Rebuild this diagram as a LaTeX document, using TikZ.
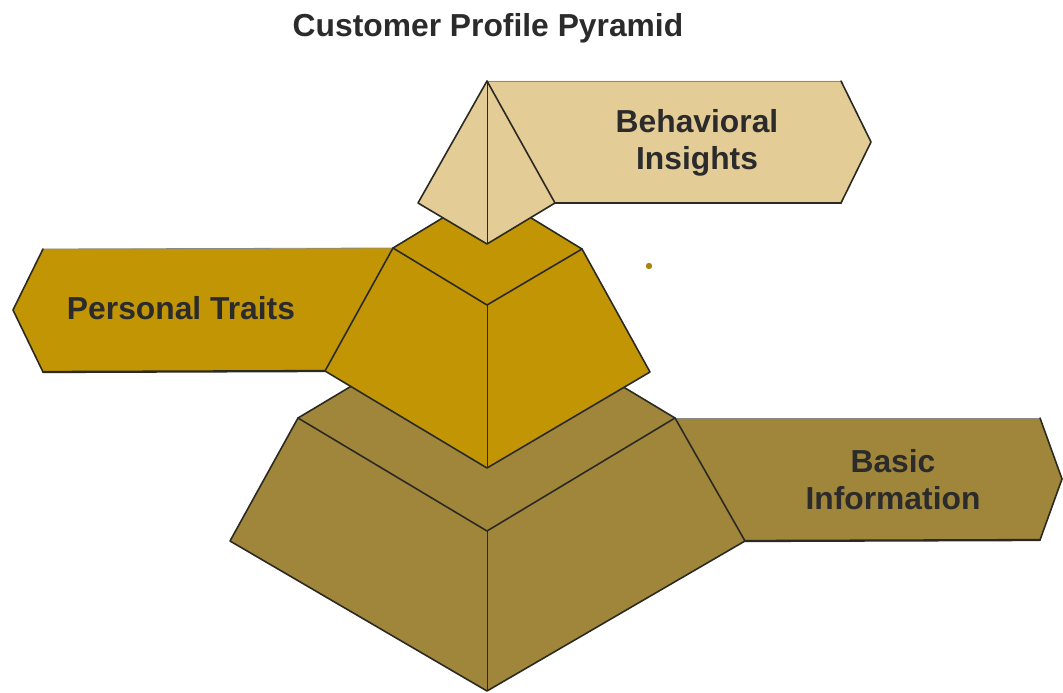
\documentclass[tikz,border=0pt]{standalone}
\usepackage{fontspec}
\setmainfont{Liberation Sans}
\definecolor{tanc}{HTML}{E4CC97}
\definecolor{goldc}{HTML}{C29504}
\definecolor{olivec}{HTML}{A0863B}
\definecolor{edgec}{HTML}{2B2A22}
\definecolor{txtc}{HTML}{2B2B2B}
\definecolor{dotc}{HTML}{A8850E}
\tikzset{
  edgeline/.style={draw=edgec, line width=1.6pt, line join=round, line cap=round},
  shadowline/.style={draw=edgec, line width=2.3pt, line join=round, line cap=round},
  midline/.style={draw=edgec, line width=1.0pt},
  topline/.style={draw=edgec!55, line width=0.8pt},
  lbl/.style={text=txtc, font=\bfseries\fontsize{31.8}{37}\selectfont, align=center, inner sep=0pt}
}
\begin{document}
\begin{tikzpicture}[x=1pt,y=-1pt]
\useasboundingbox (0,0) rectangle (1063,693);
% ---------- coordinates ----------
% bottom layer
\coordinate (Bl) at (298,418); \coordinate (Bf) at (487,531);
\coordinate (Br) at (675,418); \coordinate (Bb) at (487,305);
\coordinate (BL) at (230,541); \coordinate (BF) at (487,691);
\coordinate (BR) at (745,541);
\coordinate (A1) at (1040,418); \coordinate (A2) at (1062,479); \coordinate (A3) at (1040,540);
% middle layer
\coordinate (Ml) at (393,248); \coordinate (Mf) at (487,305);
\coordinate (Mr) at (582,249); \coordinate (Mb) at (487,191);
\coordinate (ML) at (325,371); \coordinate (MF) at (487,468);
\coordinate (MR) at (650,372);
\coordinate (P1) at (43,249); \coordinate (P0) at (13,310); \coordinate (P2) at (43,372);
% top pyramid
\coordinate (Tt) at (487,81); \coordinate (Tl) at (418,203);
\coordinate (Tf) at (487,244); \coordinate (Tr) at (555,203);
\coordinate (R1) at (841,81); \coordinate (R2) at (871,142); \coordinate (R3) at (841,203);

% ---------- bottom layer ----------
\fill[olivec] (Br) -- (A1) -- (A2) -- (A3) -- (BR) -- cycle;
\draw[topline] (Br) -- (A1);
\draw[edgeline] (A1) -- (A2) -- (A3);
\draw[shadowline] (A3) -- (BR);
\fill[olivec] (Bl) -- (Bb) -- (Br) -- (BR) -- (BF) -- (BL) -- cycle;
\draw[edgeline] (Bf) -- (Bl) -- (Bb) -- (Br) -- (Bf);
\draw[edgeline] (Bl) -- (BL) -- (BF) -- (BR) -- (Br);
\draw[midline] (Bf) -- (BF);

% ---------- middle layer ----------
\fill[goldc] (Ml) -- (P1) -- (P0) -- (P2) -- (ML) -- cycle;
\draw[topline] (P1) -- (Ml);
\draw[edgeline] (P1) -- (P0) -- (P2);
\draw[shadowline] (P2) -- (ML);
\fill[goldc] (Ml) -- (Mb) -- (Mr) -- (MR) -- (MF) -- (ML) -- cycle;
\draw[edgeline] (Mf) -- (Ml) -- (Mb) -- (Mr) -- (Mf);
\draw[edgeline] (Ml) -- (ML) -- (MF) -- (MR) -- (Mr);
\draw[midline] (Mf) -- (MF);

% ---------- top pyramid ----------
\fill[tanc] (Tt) -- (R1) -- (R2) -- (R3) -- (Tr) -- cycle;
\draw[topline] (Tt) -- (R1);
\draw[edgeline] (R1) -- (R2) -- (R3);
\draw[shadowline] (R3) -- (Tr);
\fill[tanc] (Tt) -- (Tr) -- (Tf) -- (Tl) -- cycle;
\draw[edgeline] (Tt) -- (Tl) -- (Tf) -- (Tr) -- cycle;
\draw[midline] (Tt) -- (Tf);

% dot
\fill[dotc] (649,266) circle (3.2);

% ---------- texts ----------
\node[lbl, anchor=base] (title) at (488,37) {Customer Profile Pyramid};
\node[lbl] (beh) at (697,143) {Behavioral\\Insights};
\node[lbl, anchor=base] (pers) at (181,319) {Personal Traits};
\node[lbl] (basic) at (893,480) {Basic\\Information};
\end{tikzpicture}
\end{document}
